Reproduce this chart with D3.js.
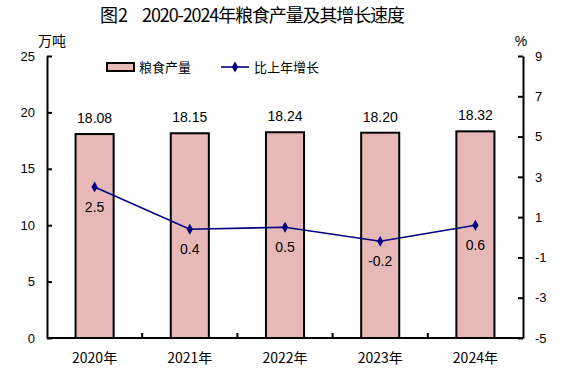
<!DOCTYPE html>
<html>
<head>
<meta charset="utf-8">
<script src="https://cdn.jsdelivr.net/npm/d3@7"></script>
<style>
body { margin:0; background:#fff; }
text { font-family: "Liberation Sans", Arial, "Noto Sans CJK SC", sans-serif; }
.cjk { font-family: "Noto Sans CJK SC", sans-serif; }
</style>
</head>
<body>
<svg id="chart"></svg>
<script>
var years = ["2020年", "2021年", "2022年", "2023年", "2024年"];
var output = [18.08, 18.15, 18.24, 18.20, 18.32];
var growth = [2.5, 0.4, 0.5, -0.2, 0.6];
var leftTicks = [0, 5, 10, 15, 20, 25];
var rightTicks = [-5, -3, -1, 1, 3, 5, 7, 9];

var screen = {width:577, height:377};
var margins = {top:56, bottom:39, left:47, right:54};
var graph = {
    width: screen.width - margins.left - margins.right,
    height: screen.height - margins.top - margins.bottom
};

var svg = d3.select("#chart")
    .attr("width", screen.width)
    .attr("height", screen.height);

//scales
var xBase = d3.scaleBand()
    .domain(years)
    .range([0, graph.width]);

var yLeft = d3.scaleLinear()
    .domain([0, 25])
    .range([graph.height, 0]);

var yRight = d3.scaleLinear()
    .domain([-5, 9])
    .range([graph.height, 0]);

var g = svg.append("g")
    .attr("transform", "translate(" + margins.left + "," + margins.top + ")");

//bars
var barW = xBase.bandwidth() * 0.4;
g.append("g")
    .selectAll("rect")
    .data(output)
    .enter()
    .append("rect")
    .attr("x", function(d, i) { return xBase(years[i]) + (xBase.bandwidth() - barW) / 2; })
    .attr("y", function(d) { return yLeft(d); })
    .attr("width", barW)
    .attr("height", function(d) { return graph.height - yLeft(d); })
    .attr("fill", "#e6b8b7")
    .attr("stroke", "#000")
    .attr("stroke-width", 2);

g.append("g")
    .selectAll("text")
    .data(output)
    .enter()
    .append("text")
    .attr("x", function(d, i) { return xBase(years[i]) + xBase.bandwidth() / 2; })
    .attr("y", function(d) { return yLeft(d) - 11; })
    .attr("text-anchor", "middle")
    .attr("font-size", 14)
    .text(function(d) { return d.toFixed(2); });

//line
var cx = function(d, i) { return xBase(years[i]) + xBase.bandwidth() / 2; };
var line = d3.line()
    .x(cx)
    .y(function(d) { return yRight(d); });

g.append("path")
    .datum(growth)
    .attr("d", line)
    .attr("fill", "none")
    .attr("stroke", "#000080")
    .attr("stroke-width", 1.6);

var diamond = d3.symbol().type(d3.symbolDiamond).size(34);
g.append("g")
    .selectAll("path")
    .data(growth)
    .enter()
    .append("path")
    .attr("d", diamond)
    .attr("transform", function(d, i) { return "translate(" + cx(d, i) + "," + yRight(d) + ")"; })
    .attr("fill", "#000080");

g.append("g")
    .selectAll("text")
    .data(growth)
    .enter()
    .append("text")
    .attr("x", cx)
    .attr("y", function(d) { return yRight(d) + 25; })
    .attr("text-anchor", "middle")
    .attr("font-size", 14)
    .text(function(d) { return d.toFixed(1); });

//axes
var axisL = d3.axisLeft(yLeft).tickValues(leftTicks).tickSizeInner(-5).tickSizeOuter(0).tickPadding(12);
var axisR = d3.axisRight(yRight).tickValues(rightTicks).tickSizeInner(-5).tickSizeOuter(0).tickPadding(12)
    .tickFormat(function(d) { return String(d); });

var styleAxis = function(sel)
{
    sel.select(".domain").attr("stroke", "#000").attr("stroke-width", 2);
    sel.selectAll(".tick line").attr("stroke", "#000").attr("stroke-width", 2);
    sel.selectAll(".tick text").attr("font-size", 13).attr("fill", "#000")
        .attr("font-family", "Liberation Sans, Arial, sans-serif");
};

g.append("g").call(axisL).call(styleAxis);
g.append("g").attr("transform", "translate(" + graph.width + ",0)").call(axisR).call(styleAxis);

//x axis with boundary ticks
var xAxisG = g.append("g").attr("transform", "translate(0," + graph.height + ")");
xAxisG.append("line")
    .attr("x1", 0).attr("x2", graph.width)
    .attr("stroke", "#000").attr("stroke-width", 2);
xAxisG.selectAll(".bt")
    .data(years.slice(1))
    .enter()
    .append("line")
    .attr("x1", function(d) { return xBase(d); })
    .attr("x2", function(d) { return xBase(d); })
    .attr("y1", 0).attr("y2", -5)
    .attr("stroke", "#000").attr("stroke-width", 2);
xAxisG.selectAll("text")
    .data(years)
    .enter()
    .append("text")
    .attr("class", "cjk")
    .attr("x", function(d) { return xBase(d) + xBase.bandwidth() / 2; })
    .attr("y", 25)
    .attr("text-anchor", "middle")
    .attr("font-size", 14)
    .text(function(d) { return d; });

//title + units
svg.append("text")
    .attr("class", "cjk")
    .attr("x", 100)
    .attr("y", 22)
    .attr("font-size", 18)
    .text("图2");
svg.append("text")
    .attr("class", "cjk")
    .attr("x", 142)
    .attr("y", 22)
    .attr("textLength", 263)
    .attr("font-size", 18)
    .text("2020-2024年粮食产量及其增长速度");

svg.append("text").attr("class", "cjk")
    .attr("x", 52).attr("y", 46).attr("text-anchor", "middle").attr("font-size", 14)
    .text("万吨");
svg.append("text")
    .attr("x", 521).attr("y", 46).attr("text-anchor", "middle").attr("font-size", 14)
    .text("%");

//legend
var legend = svg.append("g");
legend.append("rect")
    .attr("x", 107).attr("y", 63).attr("width", 27).attr("height", 8)
    .attr("fill", "#e6b8b7").attr("stroke", "#000").attr("stroke-width", 2);
legend.append("text").attr("class", "cjk")
    .attr("x", 139).attr("y", 72).attr("font-size", 13)
    .text("粮食产量");
legend.append("line")
    .attr("x1", 221).attr("x2", 249).attr("y1", 67).attr("y2", 67)
    .attr("stroke", "#000080").attr("stroke-width", 1.6);
legend.append("path")
    .attr("d", diamond)
    .attr("transform", "translate(235,67)")
    .attr("fill", "#000080");
legend.append("text").attr("class", "cjk")
    .attr("x", 254).attr("y", 72).attr("font-size", 13)
    .text("比上年增长");
</script>
</body>
</html>
